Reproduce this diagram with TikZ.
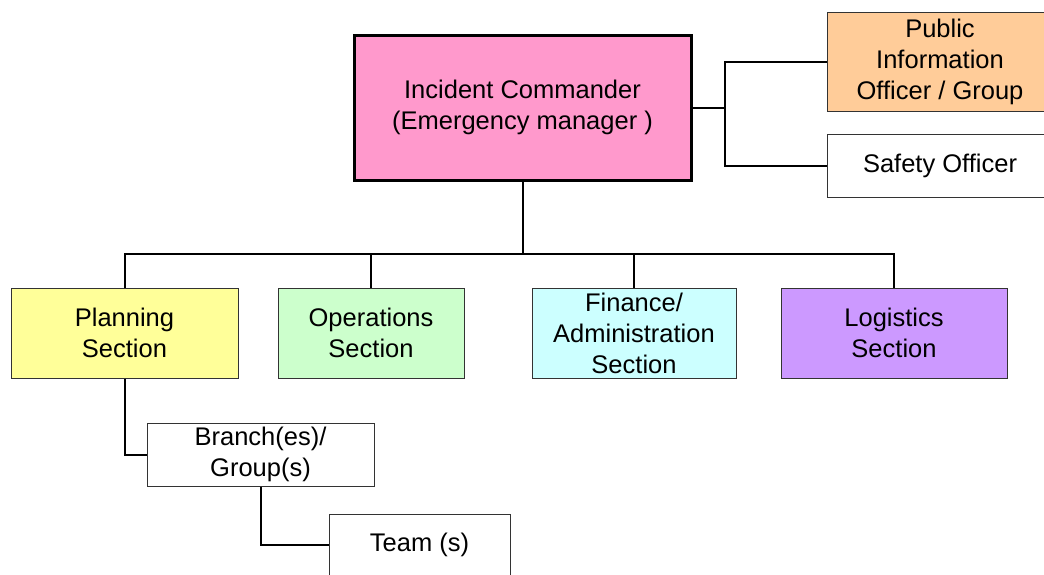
\documentclass[tikz,border=0pt]{standalone}
\usepackage{fontspec}
\setmainfont{Liberation Sans}
\begin{document}
\begin{tikzpicture}[x=1pt,y=-1pt,
  box/.style={draw=black!80, line width=1pt, inner sep=0pt, align=center,
    font=\fontsize{25.5}{31}\selectfont},
  chief/.style={box, draw=black, line width=3pt},
  link/.style={draw=black, line width=2pt}]
\clip (0,0) rectangle (1044,574);
\fill[white] (0,0) rectangle (1044,574);

% command staff
\node[chief, fill={rgb,255:red,255;green,153;blue,204}, minimum width=337pt, minimum height=145pt]
  (ic) at (522.5,107.5) {Incident Commander\\(Emergency manager )};
\node[box, fill={rgb,255:red,255;green,204;blue,153}, minimum width=226pt, minimum height=99pt]
  (pio) at (940,61.5) {Public\\Information\\Officer / Group};
\node[box, fill=white, minimum width=226pt, minimum height=63pt]
  (safety) at (940,165.5) {Safety Officer};

% general staff sections
\node[box, fill={rgb,255:red,255;green,255;blue,153}, minimum width=227pt, minimum height=90pt]
  (plan) at (124.5,333) {Planning\\Section};
\node[box, fill={rgb,255:red,204;green,255;blue,204}, minimum width=186pt, minimum height=90pt]
  (ops) at (371,333) {Operations\\Section};
\node[box, fill={rgb,255:red,204;green,255;blue,255}, minimum width=204pt, minimum height=90pt]
  (fin) at (634,333) {Finance/\\Administration\\Section};
\node[box, fill={rgb,255:red,204;green,153;blue,255}, minimum width=226pt, minimum height=90pt]
  (log) at (894,333) {Logistics\\Section};

% subordinate units
\node[box, fill=white, minimum width=227pt, minimum height=63pt]
  (branch) at (260.5,454.5) {Branch(es)/\\Group(s)};
\node[box, fill=white, minimum width=181pt, minimum height=62pt]
  (team) at (419.5,545) {Team (s)};

% connectors
\coordinate (staffjoin) at (725,107.5);
\coordinate (bus) at (522.5,254);
\draw[link] (ic.east) -- (staffjoin);
\draw[link] (pio.west) -| (staffjoin) |- (safety.west);
\draw[link] (ic.south) -- (bus);
\draw[link] (plan.north) -- (plan.north |- bus) -- (log.north |- bus) -- (log.north);
\draw[link] (ops.north) -- (ops.north |- bus);
\draw[link] (fin.north) -- (fin.north |- bus);
\draw[link] (plan.south) |- (branch.west);
\draw[link] (branch.south) |- (team.west);
\end{tikzpicture}
\end{document}
